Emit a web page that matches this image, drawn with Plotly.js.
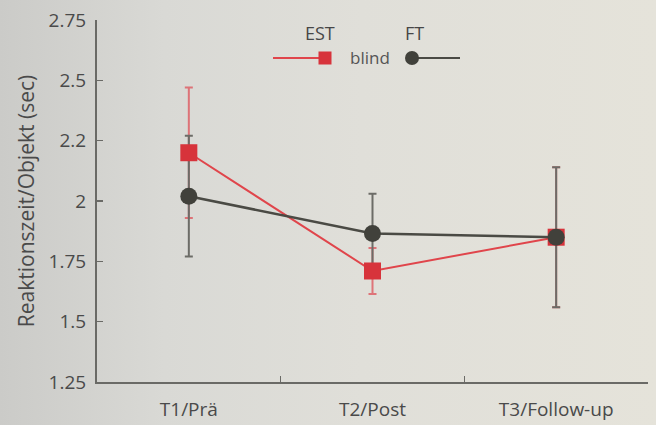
<!DOCTYPE html>
<html>
<head>
<meta charset="utf-8">
<script src="https://cdn.plot.ly/plotly-3.0.1.min.js"></script>
<style>
  html, body { margin:0; padding:0; }
  body { width:656px; height:425px; overflow:hidden;
    background: linear-gradient(to right, #cbcbc8 0%, #d9d9d5 25%, #e0dfd9 55%, #e5e3da 100%); }
  #chart { width:656px; height:425px; }
</style>
</head>
<body>
<div id="chart"></div>
<script>
const categories = ['T1/Prä', 'T2/Post', 'T3/Follow-up'];
const estValues = [2.20, 1.71, 1.85];
const estErrors = [0.27, 0.095, 0.29];
const ftValues  = [2.02, 1.865, 1.85];
const ftErrors  = [0.25, 0.165, 0.29];
const yTickVals = [1.25, 1.5, 1.75, 2, 2.25, 2.5, 2.75];
const yTickText = ['1.25', '1.5', '1.75', '2', '2.2', '2.5', '2.75'];
const seriesNames = ['EST', 'FT'];
const legendMiddle = 'blind';
const yTitle = 'Reaktionszeit/Objekt (sec)';

const RED = '#d7333b';
const RED_LINE = '#e0454b';
const RED_ERR = 'rgba(222,80,88,0.75)';
const DARK = '#41413b';
const DARK_LINE = '#4a4a44';
const GRAY_ERR = '#6c6c67';
const FONT = 'Open Sans, sans-serif';

const traces = [
  { x: categories, y: estValues, type: 'scatter', mode: 'markers', name: seriesNames[0],
    marker: { size: 1, opacity: 0 }, showlegend: false, hoverinfo: 'skip',
    error_y: { type: 'data', array: estErrors, visible: true, color: RED_ERR, thickness: 2, width: 4 } },
  { x: categories, y: ftValues, type: 'scatter', mode: 'markers', name: seriesNames[1],
    marker: { size: 1, opacity: 0 }, showlegend: false, hoverinfo: 'skip',
    error_y: { type: 'data', array: ftErrors, visible: true, color: GRAY_ERR, thickness: 2, width: 4 } },
  { x: categories, y: estValues, type: 'scatter', mode: 'lines+markers', name: seriesNames[0],
    line: { color: RED_LINE, width: 2 }, marker: { symbol: 'square', size: 17, color: RED }, showlegend: false },
  { x: categories, y: ftValues, type: 'scatter', mode: 'lines+markers', name: seriesNames[1],
    line: { color: DARK_LINE, width: 2.5 }, marker: { symbol: 'circle', size: 17, color: DARK }, showlegend: false }
];

const L = 97, R = 648, T = 20, B = 382;
const px = v => (v - L) / (R - L);
const py = v => (B - v) / (B - T);

const shapes = [
  { type: 'line', xref: 'paper', yref: 'paper', x0: px(273), x1: px(320), y0: py(58), y1: py(58), line: { color: RED_LINE, width: 2 } },
  { type: 'rect', xref: 'paper', yref: 'paper', x0: px(318.5), x1: px(331.5), y0: py(64.5), y1: py(51.5), fillcolor: RED, line: { width: 0 } },
  { type: 'line', xref: 'paper', yref: 'paper', x0: px(412), x1: px(460), y0: py(58), y1: py(58), line: { color: DARK_LINE, width: 2 } },
  { type: 'circle', xref: 'paper', yref: 'paper', x0: px(405), x1: px(419), y0: py(65), y1: py(51), fillcolor: DARK, line: { width: 0 } }
];

const annotations = [
  { text: seriesNames[0], xref: 'paper', yref: 'paper', x: px(320), y: py(33), xanchor: 'center', yanchor: 'middle', showarrow: false, font: { family: FONT, size: 18, color: '#474747' } },
  { text: legendMiddle, xref: 'paper', yref: 'paper', x: px(370), y: py(57), xanchor: 'center', yanchor: 'middle', showarrow: false, font: { family: FONT, size: 17, color: '#555555' } },
  { text: seriesNames[1], xref: 'paper', yref: 'paper', x: px(414), y: py(33), xanchor: 'center', yanchor: 'middle', showarrow: false, font: { family: FONT, size: 18, color: '#474747' } }
];

const layout = {
  width: 656, height: 425,
  margin: { l: L, r: 656 - R, t: T, b: 425 - B },
  paper_bgcolor: 'rgba(0,0,0,0)', plot_bgcolor: 'rgba(0,0,0,0)',
  showlegend: false,
  font: { family: FONT, color: '#505050' },
  xaxis: {
    type: 'category', range: [-0.5, 2.5], tickson: 'boundaries',
    ticks: 'inside', ticklen: 6, tickwidth: 1.5, tickcolor: '#6a6a66',
    showline: true, linecolor: '#6a6a66', linewidth: 2,
    showgrid: false, zeroline: false, automargin: false,
    tickfont: { family: FONT, size: 19, color: '#4a4a4a' }, ticklabelstandoff: 9
  },
  yaxis: {
    range: [1.25, 2.75], tickmode: 'array', tickvals: yTickVals, ticktext: yTickText,
    ticks: 'inside', ticklen: 6, tickwidth: 1.5, tickcolor: '#6a6a66',
    showline: true, linecolor: '#6a6a66', linewidth: 2,
    showgrid: false, zeroline: false, automargin: false,
    tickfont: { family: FONT, size: 19, color: '#4a4a4a' }, ticklabelstandoff: 5,
    title: { text: yTitle, font: { family: FONT, size: 21, color: '#4a4a4a' }, standoff: 8 }
  },
  shapes: shapes,
  annotations: annotations
};

Plotly.newPlot('chart', traces, layout, { displayModeBar: false, staticPlot: true });
</script>
</body>
</html>
